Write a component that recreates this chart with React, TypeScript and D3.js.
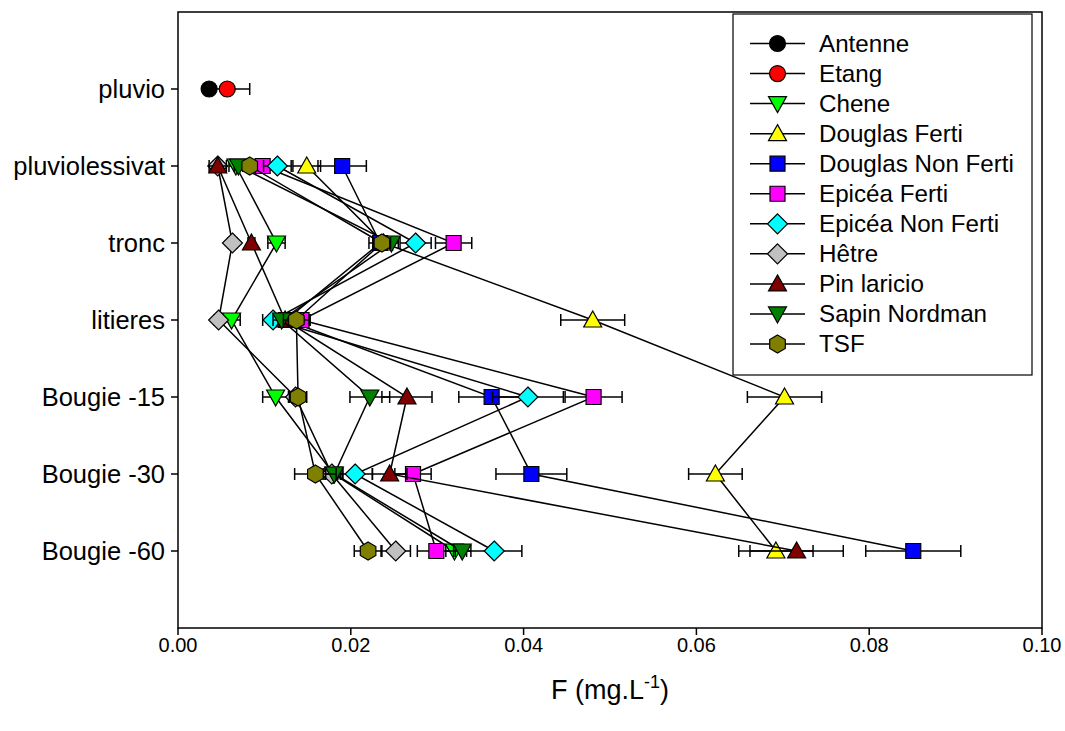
import React from "react";
import * as d3 from "d3";

const categories = ["pluvio", "pluviolessivat", "tronc", "litieres", "Bougie -15", "Bougie -30", "Bougie -60"];
const xTicks = [0, 0.02, 0.04, 0.06, 0.08, 0.1];

const seriesNames = ["Antenne", "Etang", "Chene", "Douglas Ferti", "Douglas Non Ferti", "Epicéa Ferti", "Epicéa Non Ferti", "Hêtre", "Pin laricio", "Sapin Nordman", "TSF"];
const seriesColors = ["#000000", "#ff0000", "#00ff00", "#ffff00", "#0000ff", "#ff00ff", "#00ffff", "#c0c0c0", "#800000", "#008000", "#808000"];
const seriesShapes = ["circle", "circle", "triDown", "triUp", "square", "square", "diamond", "diamond", "triUp", "triDown", "hexagon"];

type V = number | null;
const antenne: V[] = [0.0036, null, null, null, null, null, null];
const antenneErr: V[] = [null, null, null, null, null, null, null];
const etang: V[] = [0.0057, null, null, null, null, null, null];
const etangErr: V[] = [0.0026, null, null, null, null, null, null];
const chene: V[] = [null, 0.0067, 0.0114, 0.0062, 0.0113, 0.018, 0.032];
const cheneErr: V[] = [null, 0.0008, 0.001, 0.001, 0.0015, 0.001, 0.001];
const douglasFerti: V[] = [null, 0.0149, 0.0238, 0.048, 0.0702, 0.0622, 0.0692];
const douglasFertiErr: V[] = [null, 0.0016, 0.001, 0.0037, 0.0043, 0.0031, 0.0043];
const douglasNonFerti: V[] = [null, 0.019, 0.0234, 0.0125, 0.0363, 0.0409, 0.0851];
const douglasNonFertiErr: V[] = [null, 0.0028, 0.0013, 0.0012, 0.0038, 0.0041, 0.0055];
const epiceaFerti: V[] = [null, 0.0098, 0.0319, 0.0143, 0.0481, 0.0272, 0.0299];
const epiceaFertiErr: V[] = [null, 0.0006, 0.0021, 0.001, 0.0033, 0.0021, 0.0022];
const epiceaNonFerti: V[] = [null, 0.0115, 0.0275, 0.011, 0.0405, 0.0205, 0.0366];
const epiceaNonFertiErr: V[] = [null, 0.0016, 0.0018, 0.0012, 0.0041, 0.002, 0.0032];
const hetre: V[] = [null, 0.0046, 0.0063, 0.0047, 0.0136, 0.0178, 0.0252];
const hetreErr: V[] = [null, 0.0005, 0.0005, 0.0005, 0.0008, 0.001, 0.0017];
const pinLaricio: V[] = [null, 0.0046, 0.0085, 0.0124, 0.0265, 0.0245, 0.0716];
const pinLaricioErr: V[] = [null, 0.001, 0.0004, 0.0008, 0.0029, 0.002, 0.0054];
const sapinNordman: V[] = [null, 0.007, 0.0247, 0.012, 0.0222, 0.0181, 0.0329];
const sapinNordmanErr: V[] = [null, 0.0005, 0.0008, 0.001, 0.0023, 0.001, 0.001];
const tsf: V[] = [null, 0.0083, 0.0236, 0.0137, 0.0139, 0.0159, 0.022];
const tsfErr: V[] = [null, 0.0005, 0.001, 0.0015, 0.001, 0.0024, 0.0016];

const seriesValues = [antenne, etang, chene, douglasFerti, douglasNonFerti, epiceaFerti, epiceaNonFerti, hetre, pinLaricio, sapinNordman, tsf];
const seriesErrors = [antenneErr, etangErr, cheneErr, douglasFertiErr, douglasNonFertiErr, epiceaFertiErr, epiceaNonFertiErr, hetreErr, pinLaricioErr, sapinNordmanErr, tsfErr];

const W = 1065, H = 731;
const plot = { left: 178, right: 1042, top: 12, bottom: 628 };
const FONT = "'Liberation Sans', Arial, sans-serif";

function shapePath(shape: string): string {
  switch (shape) {
    case "circle": {
      const p = d3.path();
      p.arc(0, 0, 8, 0, Math.PI * 2);
      p.closePath();
      return p.toString();
    }
    case "square":
      return "M-7.5,-7.5L7.5,-7.5L7.5,7.5L-7.5,7.5Z";
    case "triUp":
      return "M0,-9L9,7L-9,7Z";
    case "triDown":
      return "M0,9L9,-7L-9,-7Z";
    case "diamond":
      return "M0,-10L10,0L0,10L-10,0Z";
    case "hexagon": {
      const pts = d3.range(6).map((i) => {
        const a = -Math.PI / 2 + (i * Math.PI) / 3;
        return [9 * Math.cos(a), 9 * Math.sin(a)];
      });
      return "M" + pts.map((p) => p[0].toFixed(2) + "," + p[1].toFixed(2)).join("L") + "Z";
    }
  }
  return "";
}

export default function App() {
  const x = d3.scaleLinear().domain([0, 0.1]).range([plot.left, plot.right]);
  const y = d3.scaleLinear().domain([0, categories.length + 1]).range([plot.top, plot.bottom]);
  const fmt = d3.format(".2f");
  const lineGen = d3
    .line<[number, number]>()
    .x((d) => d[0])
    .y((d) => d[1]);

  const legendX = 733, legendY = 14, legendW = 299, legendH = 361;
  const legendRow0 = 43.5, legendStep = 30.05;

  return (
    <svg width={W} height={H} style={{ position: "absolute", left: 0, top: 0, background: "#fff" }} fontFamily={FONT}>
      <rect x={0} y={0} width={W} height={H} fill="#fff" />
      {seriesValues.map((vals, si) => {
        const pts: [number, number][] = [];
        vals.forEach((v, ci) => {
          if (v != null) pts.push([x(v), y(ci + 1)]);
        });
        const errs = seriesErrors[si];
        return (
          <g key={si}>
            {pts.length > 1 && <path d={lineGen(pts) || ""} fill="none" stroke="#000" strokeWidth={1.5} />}
            {vals.map((v, ci) => {
              const e = errs[ci];
              if (v == null || e == null) return null;
              const cy = y(ci + 1);
              const x0 = x(v - e), x1 = x(v + e);
              return (
                <g key={ci} stroke="#000" strokeWidth={1.5}>
                  <line x1={x0} x2={x1} y1={cy} y2={cy} />
                  <line x1={x0} x2={x0} y1={cy - 6} y2={cy + 6} />
                  <line x1={x1} x2={x1} y1={cy - 6} y2={cy + 6} />
                </g>
              );
            })}
            {vals.map((v, ci) =>
              v == null ? null : (
                <path
                  key={"m" + ci}
                  d={shapePath(seriesShapes[si])}
                  transform={`translate(${x(v)},${y(ci + 1)})`}
                  fill={seriesColors[si]}
                  stroke="#000"
                  strokeWidth={1.2}
                />
              )
            )}
          </g>
        );
      })}

      {/* frame */}
      <rect x={plot.left} y={plot.top} width={plot.right - plot.left} height={plot.bottom - plot.top} fill="none" stroke="#000" strokeWidth={1.5} />

      {/* y axis */}
      {categories.map((c, i) => (
        <g key={c}>
          <line x1={plot.left - 7} x2={plot.left} y1={y(i + 1)} y2={y(i + 1)} stroke="#000" strokeWidth={1.5} />
          <text x={plot.left - 13} y={y(i + 1)} dy="0.35em" textAnchor="end" fontSize={25.5}>
            {c}
          </text>
        </g>
      ))}

      {/* x axis */}
      {xTicks.map((t) => (
        <g key={t}>
          <line x1={x(t)} x2={x(t)} y1={plot.bottom} y2={plot.bottom + 7} stroke="#000" strokeWidth={1.5} />
          <text x={x(t)} y={plot.bottom + 24} textAnchor="middle" fontSize={20}>
            {fmt(t)}
          </text>
        </g>
      ))}
      <text x={(plot.left + plot.right) / 2} y={699} textAnchor="middle" fontSize={27}>
        F (mg.L<tspan dy={-11} fontSize={18}>-1</tspan><tspan dy={11}>)</tspan>
      </text>

      {/* legend */}
      <rect x={legendX} y={legendY} width={legendW} height={legendH} fill="#fff" stroke="#000" strokeWidth={1.2} />
      {seriesNames.map((n, i) => {
        const ly = legendRow0 + i * legendStep;
        return (
          <g key={n}>
            <line x1={750} x2={805} y1={ly} y2={ly} stroke="#000" strokeWidth={1.5} />
            <path d={shapePath(seriesShapes[i])} transform={`translate(777.5,${ly})`} fill={seriesColors[i]} stroke="#000" strokeWidth={1.2} />
            <text x={819} y={ly} dy="0.35em" fontSize={24.2}>
              {n}
            </text>
          </g>
        );
      })}
    </svg>
  );
}
